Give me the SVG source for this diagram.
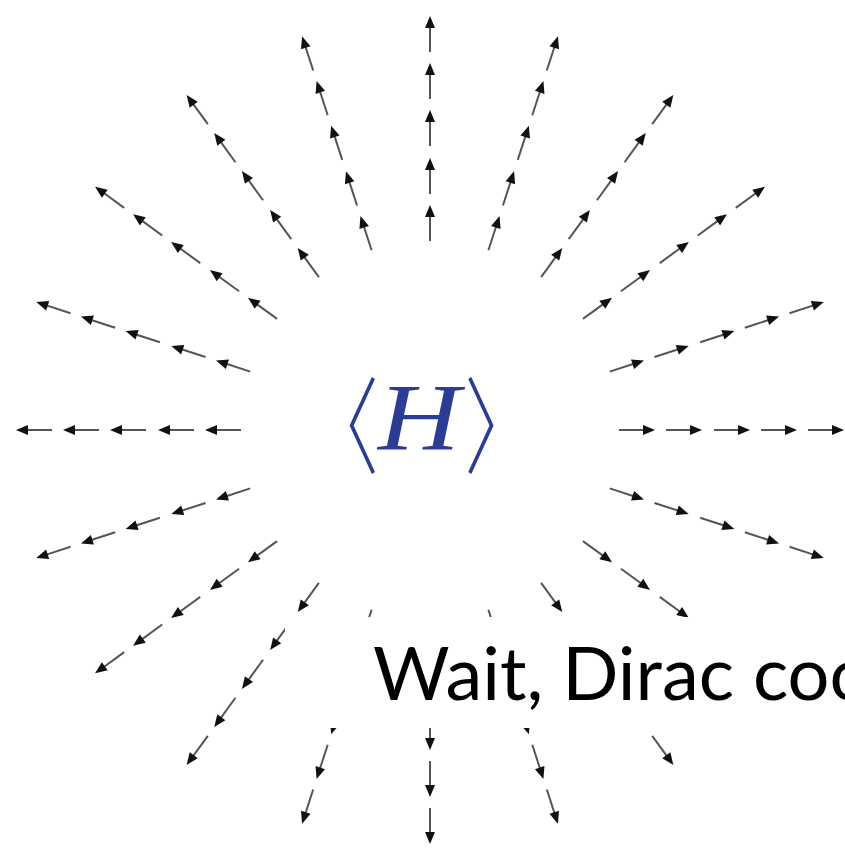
<svg xmlns="http://www.w3.org/2000/svg" xmlns:xlink="http://www.w3.org/1999/xlink" width="845" height="848" viewBox="0 0 845 848">
<style>
.shaft{stroke:#555;stroke-width:2;fill:none}
.head{fill:#111}
.math{font-family:"Liberation Serif","DejaVu Serif",serif;fill:#2b3c97}
.br{font-family:"Noto Sans CJK JP","Noto Sans CJK SC","DejaVu Sans",sans-serif;font-weight:300;fill:#2b3c97}
.caption{font-family:Lato,"Open Sans",sans-serif;fill:#000}
</style>
<defs>
<g id="arrow">
<line class="shaft" x1="0" y1="0" x2="26" y2="0"/>
<polygon class="head" points="36,0 24,-5 24,5"/>
</g>
<g id="ray">
<use xlink:href="#arrow" x="189"/>
<use xlink:href="#arrow" x="236"/>
<use xlink:href="#arrow" x="284"/>
<use xlink:href="#arrow" x="331"/>
<use xlink:href="#arrow" x="378"/>
</g>
</defs>
<rect width="845" height="848" fill="#fff"/>
<g id="connectors">
<use xlink:href="#ray" transform="translate(430,430) rotate(0)"/>
<use xlink:href="#ray" transform="translate(430,430) rotate(-18)"/>
<use xlink:href="#ray" transform="translate(430,430) rotate(-36)"/>
<use xlink:href="#ray" transform="translate(430,430) rotate(-54)"/>
<use xlink:href="#ray" transform="translate(430,430) rotate(-72)"/>
<use xlink:href="#ray" transform="translate(430,430) rotate(-90)"/>
<use xlink:href="#ray" transform="translate(430,430) rotate(-108)"/>
<use xlink:href="#ray" transform="translate(430,430) rotate(-126)"/>
<use xlink:href="#ray" transform="translate(430,430) rotate(-144)"/>
<use xlink:href="#ray" transform="translate(430,430) rotate(-162)"/>
<use xlink:href="#ray" transform="translate(430,430) rotate(-180)"/>
<use xlink:href="#ray" transform="translate(430,430) rotate(-198)"/>
<use xlink:href="#ray" transform="translate(430,430) rotate(-216)"/>
<use xlink:href="#ray" transform="translate(430,430) rotate(-234)"/>
<use xlink:href="#ray" transform="translate(430,430) rotate(-252)"/>
<use xlink:href="#ray" transform="translate(430,430) rotate(-270)"/>
<use xlink:href="#ray" transform="translate(430,430) rotate(-288)"/>
<use xlink:href="#ray" transform="translate(430,430) rotate(-306)"/>
<use xlink:href="#ray" transform="translate(430,430) rotate(-324)"/>
<use xlink:href="#ray" transform="translate(430,430) rotate(-342)"/>
</g>
<g id="center-label">
<text class="br" transform="translate(361,0) scale(0.7,1)" x="-27" y="465" font-size="105" text-anchor="middle">〈</text>
<text class="math" x="378" y="450" font-size="95" font-style="italic" textLength="82" lengthAdjust="spacingAndGlyphs">H</text>
<text class="br" transform="translate(481,0) scale(0.7,1)" x="29" y="465" font-size="105" text-anchor="middle">〉</text>
</g>
<g id="caption">
<rect x="285" y="617" width="560" height="111" fill="#fff"/>
<text class="caption" x="373" y="700" font-size="74">Wait, Dirac coo</text>
</g>
</svg>
